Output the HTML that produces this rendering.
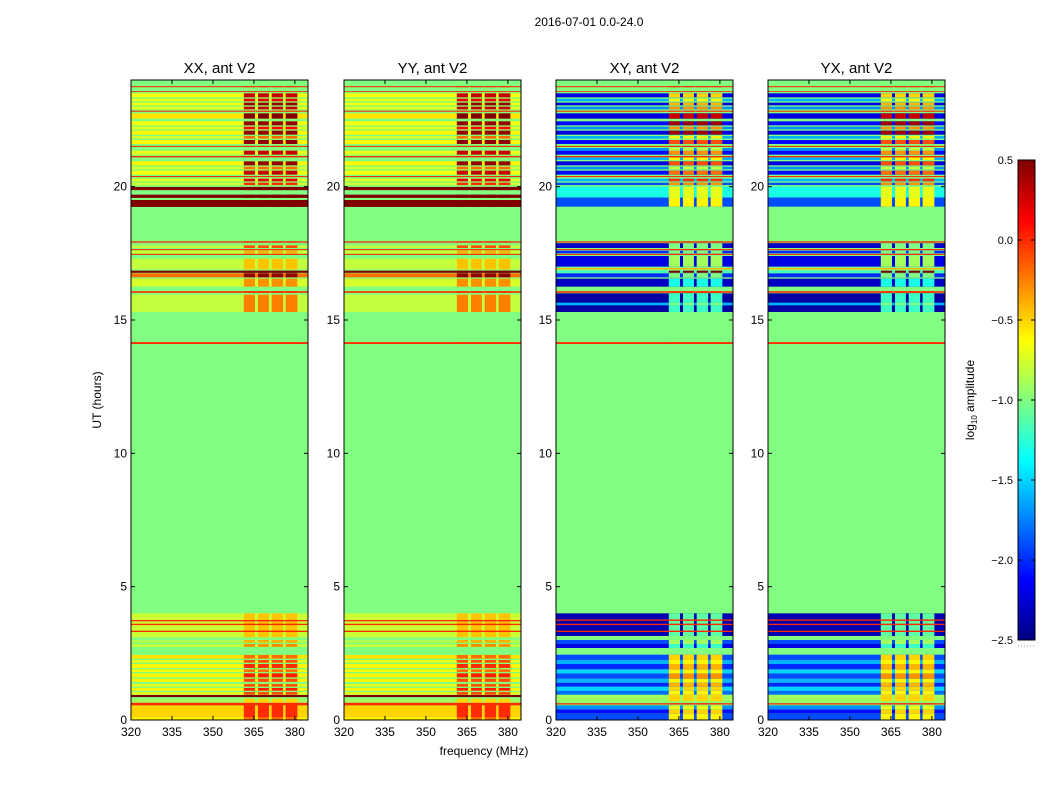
<!DOCTYPE html>
<html><head><meta charset="utf-8"><style>
body{margin:0;background:#fff;width:1050px;height:800px;overflow:hidden}
svg{font-family:"Liberation Sans",sans-serif}
</style></head><body>
<svg id="fig" width="1050" height="800">
<text x="589" y="26" font-size="12" text-anchor="middle">2016-07-01 0.0-24.0</text>
<text x="484" y="755" font-size="12" text-anchor="middle">frequency (MHz)</text>
<text transform="translate(101,400) rotate(-90)" font-size="12" text-anchor="middle">UT (hours)</text>
<text transform="translate(974,400) rotate(-90)" font-size="12" text-anchor="middle">log<tspan font-size="8" dy="3">10</tspan><tspan dy="-3"> amplitude</tspan></text>
</svg>
<script>
const panelTitles=["XX, ant V2","YY, ant V2","XY, ant V2","YX, ant V2"];
const xTicks=[320,335,350,365,380];
const yTicks=[0,5,10,15,20];
const cbTicks=[0.5,0.0,-0.5,-1.0,-1.5,-2.0,-2.5];
const background=-1.0;
const rfiColumns=[[361.3,365.4],[366.5,370.5],[371.5,375.7],[376.6,380.9]];
const parallelRows=[[0,0.1,-0.6,-0.2],[0.1,0.55,-0.5,0.0],[0.55,0.65,0.0,0.0],[0.65,0.8,-0.9,-0.5],[0.86,0.94,0.5,0.5],[0.95,1.05,-0.7,-0.1],[1.1,1.2,-0.6,0.05],[1.25,1.35,-0.7,-0.1],[1.43,1.55,-0.6,-0.1],[1.6,1.75,-0.6,0.05],[1.8,1.9,-0.65,-0.2],[1.95,2.1,-0.6,0.0],[2.15,2.25,-0.7,-0.1],[2.3,2.44,-0.55,-0.2],[2.74,2.85,-0.8,-0.3],[2.9,3.0,-0.85,-0.4],[3.1,4.0,-0.78,-0.45],[3.3,3.35,0.0,0.0],[3.56,3.61,0.0,0.0],[3.7,3.75,0.0,0.0],[14.1,14.17,0.0,0.0],[15.3,15.95,-0.8,-0.25],[16.02,16.08,0.0,0.0],[16.25,16.55,-0.75,-0.3],[16.6,16.75,-0.2,0.45],[16.77,16.85,0.5,0.5],[16.9,17.3,-0.8,-0.45],[17.44,17.48,0.0,0.0],[17.5,17.6,-0.75,-0.4],[17.62,17.66,0.0,0.0],[17.7,17.8,-0.8,-0.1],[17.9,17.95,0.0,0.0],[19.24,19.5,0.5,0.5],[19.58,19.7,0.5,0.5],[19.87,19.99,0.5,0.5],[20.06,20.15,-0.75,0.0],[20.2,20.3,-0.7,0.2],[20.36,20.4,0.0,0.0],[20.45,20.6,-0.65,0.3],[20.65,20.75,-0.75,-0.2],[20.8,20.95,-0.6,0.45],[21.1,21.15,0.0,0.0],[21.2,21.35,-0.7,0.3],[21.49,21.53,0.0,0.0],[21.6,21.75,-0.6,0.45],[21.8,21.9,-0.75,-0.2],[21.95,22.1,-0.6,0.45],[22.15,22.25,-0.7,0.1],[22.3,22.45,-0.65,0.45],[22.55,22.75,-0.55,0.5],[22.81,22.85,0.0,0.0],[22.9,23.0,-0.7,0.3],[23.05,23.15,-0.65,0.45],[23.2,23.3,-0.7,0.2],[23.35,23.5,-0.65,0.3],[23.55,23.58,0.0,0.0],[23.73,23.77,0.0,0.0]];
const crossRows=[[0,0.25,-1.9,-0.6],[0.25,0.4,-2.1,-0.5],[0.4,0.55,-1.7,-0.7],[0.58,0.63,0.0,0.0],[0.7,0.95,-0.9,-0.5],[0.95,1.1,-1.8,-0.6],[1.1,1.25,-1.5,-0.5],[1.25,1.4,-2.0,-0.4],[1.4,1.55,-1.6,-0.6],[1.55,1.75,-1.9,-0.3],[1.75,1.9,-1.5,-0.6],[1.9,2.1,-2.0,-0.4],[2.1,2.25,-1.6,-0.6],[2.25,2.45,-1.9,-0.5],[2.7,2.85,-2.2,-1.2],[2.85,3.0,-1.9,-0.9],[3.15,4.0,-2.35,-1.1],[3.3,3.35,0.0,0.0],[3.56,3.61,0.0,0.0],[3.72,3.77,0.0,0.0],[14.1,14.17,0,0],[15.3,16.0,-2.4,-1.2],[15.55,15.65,-1.6,-1.0],[16.02,16.08,0,0],[16.25,16.55,-2.3,-1.3],[16.6,16.75,-2.0,-1.0],[16.77,16.85,-1.2,0.5],[16.9,16.95,-0.4,-0.4],[17.0,17.4,-2.2,-0.9],[17.44,17.48,0,0],[17.5,17.6,-2.0,-1.0],[17.62,17.66,0,0],[17.7,17.88,-2.3,-1.0],[17.9,17.95,0,0],[19.25,19.6,-1.9,-0.6],[19.6,20.0,-1.3,-0.7],[20.06,20.15,-1.9,-0.3],[20.2,20.3,-1.6,0.0],[20.36,20.4,0,0],[20.45,20.6,-2.1,-0.2],[20.65,20.75,-1.7,-0.8],[20.8,20.95,-2.2,-0.1],[21.0,21.1,-1.6,-0.6],[21.1,21.15,0,0],[21.2,21.35,-2.1,-0.3],[21.35,21.45,-1.7,-0.8],[21.49,21.53,0,0],[21.6,21.75,-2.1,-0.1],[21.8,21.9,-1.6,-0.6],[21.95,22.1,-2.2,0.4],[22.15,22.25,-1.7,-0.3],[22.3,22.45,-2.1,0.4],[22.55,22.75,-2.2,0.3],[22.81,22.85,0,0],[22.9,23.0,-1.7,-0.3],[23.05,23.15,-2.2,-0.4],[23.2,23.3,-1.6,-0.6],[23.35,23.5,-2.2,-0.5],[23.55,23.58,0,0],[23.73,23.77,0,0]];
const panelRows=[parallelRows,parallelRows,crossRows,crossRows];
const panelLeft=[131,344,556,768];
const pw=177,plotTop=80,plotBottom=720,fMin=320,fMax=384.8,tMax=24,vMin=-2.5,vMax=0.5;
const NS="http://www.w3.org/2000/svg";
const svg=document.getElementById('fig');
function mk(t,a,p){const e=document.createElementNS(NS,t);for(const k in a)e.setAttribute(k,a[k]);(p||svg).appendChild(e);return e;}
function jet(v){let x=(v-vMin)/(vMax-vMin);x=Math.max(0,Math.min(1,x));
 const c=t=>Math.round(255*Math.max(0,Math.min(1,1.5-Math.abs(4*x-t))));
 return `rgb(${c(3)},${c(2)},${c(1)})`;}
const yS=t=>plotBottom-(t/tMax)*(plotBottom-plotTop);
panelTitles.forEach((title,i)=>{
 const L=panelLeft[i];const xS=f=>L+(f-fMin)/(fMax-fMin)*pw;
 const g=mk('g',{});
 
 
 const bg=mk('rect',{x:L,y:plotTop,width:pw,height:plotBottom-plotTop,fill:jet(background)},g);
 
 
 panelRows[i].forEach(r=>{
  const y1=yS(r[1]),y0=yS(r[0]);
  const b=mk('rect',{x:L,y:y1,width:pw,height:y0-y1,fill:jet(r[2])},g);
  
  
  rfiColumns.forEach(c=>{
   const e=mk('rect',{x:xS(c[0]),y:y1,width:xS(c[1])-xS(c[0]),height:y0-y1,fill:jet(r[3])},g);
   
   
  });
 });
 mk('rect',{x:L,y:plotTop,width:pw,height:plotBottom-plotTop,fill:'none',stroke:'#000','stroke-width':1},g);
 const tt=mk('text',{x:L+pw/2,y:plotTop-7,'font-size':15,'text-anchor':'middle'},g);tt.textContent=title;
 
 
 xTicks.forEach(f=>{const x=xS(f);
  mk('line',{x1:x,x2:x,y1:plotBottom,y2:plotBottom-4,stroke:'#000'},g);mk('line',{x1:x,x2:x,y1:plotTop,y2:plotTop+4,stroke:'#000'},g);
  const t=mk('text',{x:x,y:plotBottom+16,'font-size':12,'text-anchor':'middle'},g);t.textContent=f;
  
  });
 yTicks.forEach(v=>{const y=yS(v);
  mk('line',{x1:L,x2:L+4,y1:y,y2:y,stroke:'#000'},g);mk('line',{x1:L+pw,x2:L+pw-4,y1:y,y2:y,stroke:'#000'},g);
  const t=mk('text',{x:L-4,y:y+4,'font-size':12,'text-anchor':'end'},g);t.textContent=v;
  
  });
});
const cbX=1018,cbW=17,cbT=160,cbB=640;
const cbS=v=>cbB-(v-vMin)/(vMax-vMin)*(cbB-cbT);
const cg=mk('g',{});


for(let k=0;k<120;k++){const v0=vMin+(vMax-vMin)*k/120,v1=vMin+(vMax-vMin)*(k+1)/120;
 mk('rect',{x:cbX,y:cbS(v1),width:cbW,height:cbS(v0)-cbS(v1)+0.5,fill:jet((v0+v1)/2)},cg);}
mk('rect',{x:cbX,y:cbT,width:cbW,height:cbB-cbT,fill:'none',stroke:'#000'},cg);
mk('line',{x1:cbX,x2:cbX+cbW,y1:cbB+6,y2:cbB+6,stroke:'#999','stroke-dasharray':'1,2'},cg);
cbTicks.forEach(v=>{const y=cbS(v);
 mk('line',{x1:cbX,x2:cbX+4,y1:y,y2:y,stroke:'#000'},cg);
 mk('line',{x1:cbX+cbW-4,x2:cbX+cbW,y1:y,y2:y,stroke:'#000'},cg);
 const t=mk('text',{x:cbX-5,y:y+4,'font-size':11,'text-anchor':'end'},cg);t.textContent=v.toFixed(1).replace('-','\u2212');
 
 });
</script>
</body></html>
